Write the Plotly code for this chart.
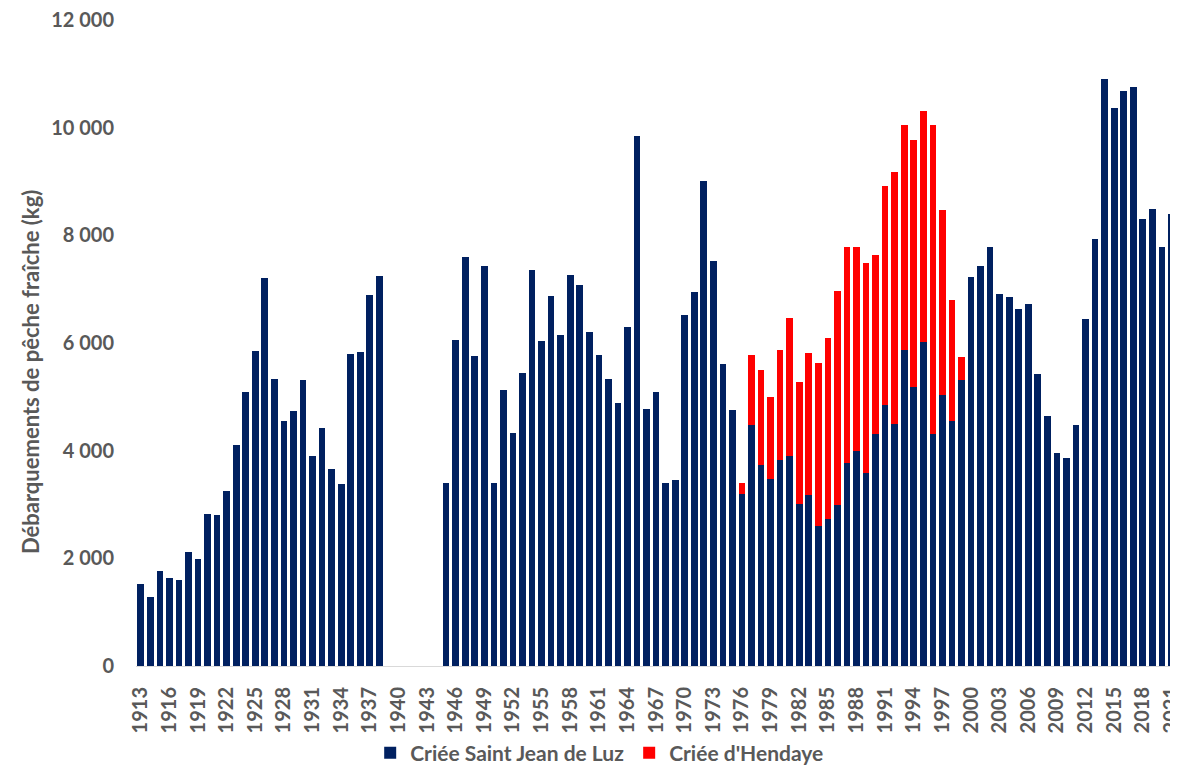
import plotly.graph_objects as go

years = list(range(1913, 2023))

saint_jean_de_luz = [
    1526, 1285, 1758, 1634, 1592, 2123, 1982, 2828, 2811, 3251,   # 1913-1922
    4097, 5092, 5855, 7206, 5324, 4544, 4744, 5307, 3898, 4428,   # 1923-1932
    3657, 3384, 5789, 5830, 6892, 7240, None, None, None, None,   # 1933-1942
    None, None, 3398, 6057, 7600, 5765, 7436, 3398, 5133, 4322,   # 1943-1952
    5446, 7358, 6036, 6874, 6142, 7265, 7081, 6199, 5780, 5332,   # 1953-1962
    4884, 6291, 9846, 4770, 5097, 3398, 3462, 6512, 6953, 9007,   # 1963-1972
    7521, 5609, 4763, 3199, 4486, 3732, 3469, 3825, 3910, 3014,   # 1973-1982
    3171, 2602, 2737, 3000, 3775, 4002, 3590, 4301, 4855, 4500,   # 1983-1992
    5865, 5190, 6014, 4315, 5040, 4550, 5310, 7223, 7429, 7777,   # 1993-2002
    6910, 6860, 6640, 6732, 5417, 4635, 3953, 3860, 4472, 6455,   # 2003-2012
    7927, 10898, 10360, 10681, 10755, 8303, 8488, 7791, 8403, 8524,  # 2013-2022
]

hendaye_years = list(range(1976, 2000))
hendaye = [
    206, 1287, 1763, 1529, 2040, 2559, 2261, 2637, 3021, 3363,
    3967, 4016, 3789, 3889, 3341, 4060, 4685, 4187, 4585, 4301,
    5737, 3427, 2253, 427,
]

y_tick_values = [0, 2000, 4000, 6000, 8000, 10000, 12000]
y_tick_labels = ["0", "2 000", "4 000", "6 000", "8 000", "10 000", "12 000"]
x_tick_years = list(range(1913, 2022, 3))

series_names = ["Criée Saint Jean de Luz", "Criée d'Hendaye"]
y_title = "Débarquements de pêche fraîche (kg)"

NAVY = "#002060"
RED = "#FF0000"
GREY = "#595959"
FONT = "Lato"

fig = go.Figure()
fig.add_trace(go.Bar(x=years, y=saint_jean_de_luz, name=series_names[0],
                     marker=dict(color=NAVY, line=dict(width=0))))
fig.add_trace(go.Bar(x=hendaye_years, y=hendaye, name=series_names[1],
                     marker=dict(color=RED, line=dict(width=0))))

# the page body has an 8px margin, so the figure is offset to compensate;
# the extra height below the window leaves room for the legend
fig.update_layout(
    width=1170, height=780,
    margin=dict(l=128, r=0, t=12, b=122),
    barmode="stack", bargap=0.3,
    plot_bgcolor="white", paper_bgcolor="white",
    font=dict(family=FONT, color=GREY, size=17),
    showlegend=True,
    legend=dict(orientation="h", x=0.445, xanchor="center", y=-0.1347, yanchor="middle",
                traceorder="normal",
                font=dict(family=FONT, size=21, color=GREY, weight="bold"),
                itemwidth=30, tracegroupgap=0),
    xaxis=dict(range=[1912.5, 2021.69], tickmode="array", automargin=False,
               tickvals=x_tick_years, ticktext=[str(y) for y in x_tick_years],
               tickangle=-90, ticks="", showgrid=False, zeroline=False,
               showline=True, linecolor="#D9D9D9", linewidth=1,
               ticklabelstandoff=12, ticklabeloverflow="allow",
               tickfont=dict(family=FONT, size=20, color=GREY, weight="bold")),
    yaxis=dict(range=[0, 12000], tickmode="array", tickvals=y_tick_values,
               ticktext=y_tick_labels, showgrid=False, zeroline=False,
               showline=False, ticks="", ticklabelstandoff=21, automargin=False,
               ticklabeloverflow="allow",
               tickfont=dict(family=FONT, size=20, color=GREY, weight="bold")),
)

fig.add_annotation(text=y_title, textangle=-90, xref="paper", yref="y",
                   x=0, y=5460, xanchor="center", yanchor="middle", xshift=-106,
                   showarrow=False,
                   font=dict(family=FONT, size=22, color=GREY, weight="bold"))

fig.write_html("out.html")
